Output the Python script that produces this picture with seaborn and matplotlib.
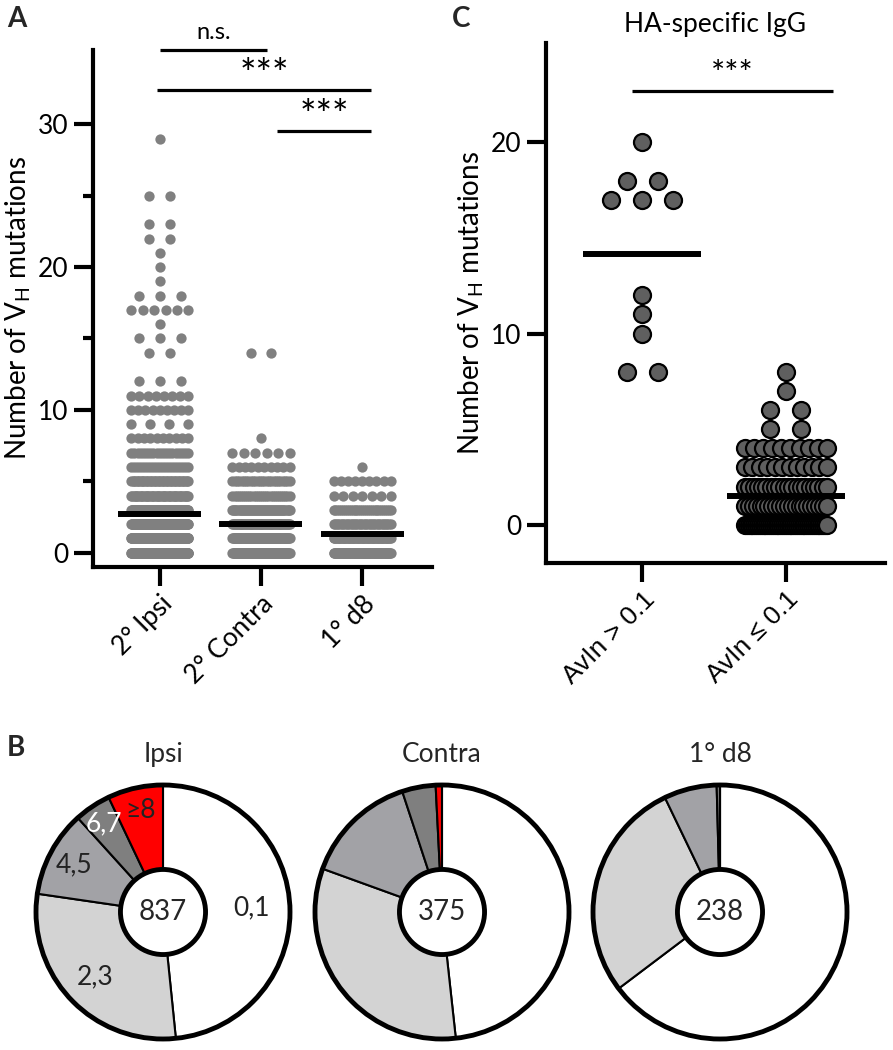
import numpy as np
import pandas as pd
import seaborn as sns
import matplotlib.pyplot as plt
from matplotlib.patches import Circle

# Panel A: number of VH mutations, counts per value for each group
groups_a = ["2° Ipsi", "2° Contra", "1° d8"]
ipsi_values = [0, 1, 2, 3, 4, 5, 6, 7, 8, 9, 10, 11, 12, 14, 15, 16, 17, 18, 19, 20, 21, 22, 23, 25, 29]
ipsi_counts = [211, 194, 130, 112, 48, 44, 20, 19, 10, 4, 9, 8, 3, 2, 3, 1, 6, 3, 1, 1, 1, 2, 2, 2, 1]
contra_values = [0, 1, 2, 3, 4, 5, 6, 7, 8, 14]
contra_counts = [95, 86, 64, 57, 28, 26, 10, 6, 1, 2]
d8_values = [0, 1, 2, 3, 4, 5, 6]
d8_counts = [84, 70, 36, 31, 7, 9, 1]

# Panel B: mutation bins shown in the donuts
pie_titles = ["Ipsi", "Contra", "1° d8"]
bin_labels = ["0,1", "2,3", "4,5", "6,7", "≥8"]
bin_edges = [0, 2, 4, 6, 8, 1000]
bin_colors = ["white", "#d3d3d3", "#a2a2a6", "#7f7f7f", "#ff0000"]
label_colors = ["#222222", "#222222", "#222222", "white", "#222222"]

# Panel C: HA-specific IgG
groups_c = ["AvIn > 0.1", "AvIn ≤ 0.1"]
high_values = [8, 10, 11, 12, 17, 18, 20]
high_counts = [2, 1, 1, 1, 3, 2, 1]
low_values = [0, 1, 2, 3, 4, 5, 6, 7, 8]
low_counts = [45, 22, 20, 12, 10, 2, 2, 1, 1]


def row_offsets(n, step, span):
    # spread n equal values side by side, squeezed into a fixed width
    if n == 1:
        return np.array([0.0])
    s = min(step, span / (n - 1))
    return (np.arange(n) - (n - 1) / 2) * s


def build_points(values_list, counts_list, names, step, span):
    rows = []
    for i, (vals, cnts, name) in enumerate(zip(values_list, counts_list, names)):
        for v, c in zip(vals, cnts):
            for off in row_offsets(c, step, span):
                rows.append({"group": name, "value": v, "x": i + off})
    return pd.DataFrame(rows)


df_a = build_points([ipsi_values, contra_values, d8_values],
                    [ipsi_counts, contra_counts, d8_counts], groups_a, 0.205, 0.565)
df_c = build_points([high_values, low_values], [high_counts, low_counts], groups_c, 0.215, 0.57)

sns.set_theme(style="ticks")
plt.rcParams["font.family"] = ["Lato", "DejaVu Sans"]
plt.rcParams["mathtext.default"] = "regular"
plt.rcParams["axes.linewidth"] = 3

W, H = 893, 1050
fig = plt.figure(figsize=(W / 100, H / 100), dpi=100)


def px_axes(x0, y0, x1, y1):
    return fig.add_axes([x0 / W, 1 - y1 / H, (x1 - x0) / W, (y1 - y0) / H])


def style_axis(ax):
    sns.despine(ax=ax)
    for s in ["left", "bottom"]:
        ax.spines[s].set_color("black")
        ax.spines[s].set_linewidth(3)
    ax.tick_params(which="major", length=14, width=3, color="black", labelsize=19, labelcolor="black")
    ax.tick_params(which="minor", length=7, width=3, color="black")
    ax.set_facecolor("white")


def sig_bar(ax, x0, x1, y, ty, text, size):
    ax.plot([x0, x1], [y, y], color="black", lw=2.3, clip_on=False, solid_capstyle="butt")
    ax.text((x0 + x1) / 2, ty, text, ha="center", va="center", fontsize=size, color="black")


# ---- Panel A ----
ax_a = px_axes(93, 50, 432, 567)
sns.scatterplot(data=df_a, x="x", y="value", color="#808080", s=55, linewidth=0,
                legend=False, ax=ax_a, zorder=2)
means_a = df_a.groupby("group", sort=False)["value"].mean()
for i, g in enumerate(groups_a):
    ax_a.hlines(means_a[g], i - 0.41, i + 0.41, color="black", lw=4.3, zorder=3)
ax_a.set_xlim(-0.66, 2.69)
ax_a.set_ylim(-1, 35.2)
ax_a.set_yticks([0, 10, 20, 30])
ax_a.set_yticks([5, 15, 25], minor=True)
ax_a.set_xticks(range(len(groups_a)))
ax_a.set_xticklabels(groups_a, rotation=45, ha="right", rotation_mode="anchor")
ax_a.set_xlabel("")
ax_a.set_ylabel("Number of V$_{H}$ mutations", fontsize=20, color="black")
style_axis(ax_a)
sig_bar(ax_a, 0, 1.06, 35.2, 36.4, "n.s.", 17)
sig_bar(ax_a, -0.03, 2.09, 32.4, 33.4, "***", 28)
sig_bar(ax_a, 1.16, 2.09, 29.5, 30.5, "***", 28)

# ---- Panel C ----
ax_c = px_axes(546, 43, 885, 563)
sns.scatterplot(data=df_c, x="x", y="value", color="#5f5f5f", s=150, edgecolor="black",
                linewidth=1.6, legend=False, ax=ax_c, zorder=2)
means_c = df_c.groupby("group", sort=False)["value"].mean()
for i, g in enumerate(groups_c):
    ax_c.hlines(means_c[g], i - 0.41, i + 0.41, color="black", lw=4.3, zorder=3)
ax_c.set_xlim(-0.67, 1.69)
ax_c.set_ylim(-2, 25.2)
ax_c.set_yticks([0, 10, 20])
ax_c.set_xticks(range(len(groups_c)))
ax_c.set_xticklabels(groups_c, rotation=45, ha="right", rotation_mode="anchor",
                     family=["Liberation Sans", "DejaVu Sans"], fontsize=18)
ax_c.set_xlabel("")
ax_c.set_ylabel("Number of V$_{H}$ mutations", fontsize=20, color="black")
ax_c.set_title("HA-specific IgG", fontsize=19, pad=8, color="black")
style_axis(ax_c)
sig_bar(ax_c, -0.07, 1.33, 22.7, 23.5, "***", 24)

# ---- Panel B ----
all_values = [ipsi_values, contra_values, d8_values]
all_counts = [ipsi_counts, contra_counts, d8_counts]
centers = [163, 442, 720]
R = 127
half = 140
for k, (vals, cnts, title, cx) in enumerate(zip(all_values, all_counts, pie_titles, centers)):
    ax = px_axes(cx - half, 912 - half, cx + half, 912 + half)
    vals = np.array(vals)
    cnts = np.array(cnts)
    sizes = [cnts[(vals >= lo) & (vals < hi)].sum() for lo, hi in zip(bin_edges[:-1], bin_edges[1:])]
    wedges, _ = ax.pie(sizes, colors=bin_colors, startangle=90, counterclock=False, radius=1,
                       wedgeprops=dict(edgecolor="black", linewidth=1.5))
    ax.add_patch(Circle((0, 0), 1, fill=False, edgecolor="black", lw=3.5, zorder=3))
    ax.add_patch(Circle((0, 0), 0.335, facecolor="white", edgecolor="black", lw=3.5, zorder=4))
    ax.text(0, 0, str(cnts.sum()), ha="center", va="center", fontsize=20, zorder=5)
    ax.text(0, 1.24, title, ha="center", va="center", fontsize=19)
    if k == 0:
        radii = [0.70, 0.74, 0.79, 0.84, 0.82]
        for w, lab, col, r in zip(wedges, bin_labels, label_colors, radii):
            ang = np.deg2rad((w.theta1 + w.theta2) / 2)
            ax.text(r * np.cos(ang), r * np.sin(ang), lab, ha="center", va="center",
                    fontsize=19, color=col, zorder=5)
    ax.set_xlim(-half / R, half / R)
    ax.set_ylim(-half / R, half / R)
    ax.set_aspect("equal")
    ax.axis("off")

# panel letters
for lab, x, y in [("A", 7, 19), ("C", 452, 19), ("B", 7, 748)]:
    fig.text(x / W, 1 - y / H, lab, fontsize=20, fontweight="bold", ha="left", va="center")

fig.savefig("out.png", dpi=100, facecolor="white")
